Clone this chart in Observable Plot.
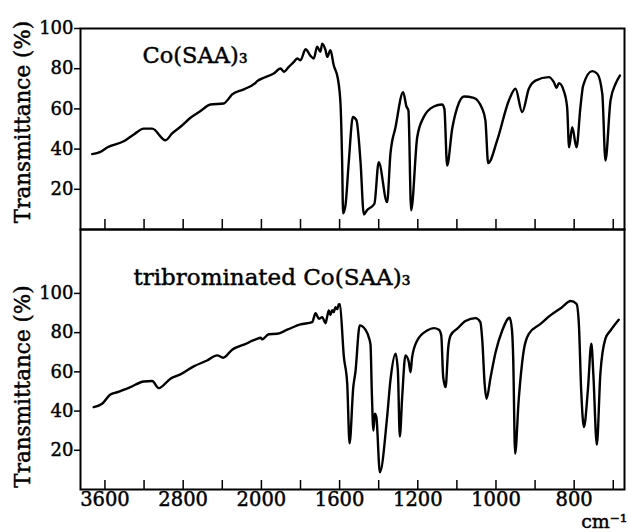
<!DOCTYPE html>
<html><head><meta charset="utf-8">
<script src="https://cdn.jsdelivr.net/npm/d3@7"></script>
<script src="https://cdn.jsdelivr.net/npm/@observablehq/plot@0.6"></script>
<style>
html,body{margin:0;padding:0;background:#fff;}
#wrap{position:relative;width:628px;height:532px;overflow:hidden;background:#fff;}
#wrap svg{position:absolute;left:0;overflow:visible;}
#wrap svg text{stroke:#000;stroke-width:0.45px;}
</style></head><body><div id="wrap"></div>
<script>
// Co(SAA)3 spectrum (wavenumber cm-1, transmittance %)
const topWavenumber = [3731,3646,3577,3408,3305,3203,3117,2981,2913,2828,2725,2623,2521,2385,2333,2299,2180,2060,2043,1988,1937,1902,1885,1860,1834,1817,1800,1774,1749,1732,1715,1698,1689,1672,1663,1647,1630,1609,1595,1587,1582,1570,1553,1532,1514,1493,1476,1459,1422,1400,1357,1340,1314,1275,1258,1248,1234,1203,1185,1159,1138,1132,1125,1112,1099,1082,1057,1035,1027,1020,997,967,950,933,916,899,865,852,845,839,827,818,813,805,794,784,777,754,741,728,720,707,694,683];
const topTransmittance = [37.5,38.6,40.8,43.9,47.3,50.2,50.2,44.4,47.8,51.1,55.6,58.9,62.2,62.7,65.2,67.2,69.7,73.0,73.8,75.5,77.6,80.1,78.5,80.9,83.4,85.1,84.2,89.7,86.4,85.1,90.9,88.4,92.5,89.2,85.9,89.2,81.7,75.1,61.8,33.7,8,12,33.7,56,54.4,33.7,7.5,9.7,12.8,33.5,13.6,37.6,50.9,68.3,61.2,59.2,9.5,45.9,55.9,61.2,62.2,60,31.8,50.1,60.8,66.2,65.5,60,54.2,33,44.3,64.2,70,58.4,70,74.1,75.8,73.3,70.5,72.8,69.2,60.8,40.9,50.9,40.9,60.8,71.6,78.8,77.5,67.5,34.3,64.2,72.5,76.6];

// tribrominated Co(SAA)3 spectrum
const bottomWavenumber = [3715,3629,3544,3475,3339,3203,3117,3050,2930,2828,2692,2555,2452,2391,2299,2145,2112,2043,2010,1996,1962,1919,1868,1800,1740,1723,1706,1689,1672,1664,1655,1647,1638,1630,1621,1612,1604,1599,1578,1561,1549,1530,1519,1497,1468,1451,1442,1435,1427,1420,1412,1394,1357,1340,1314,1302,1292,1280,1263,1246,1237,1229,1203,1176,1159,1146,1140,1135,1129,1122,1116,1099,1078,1052,1040,1035,1029,1024,1014,1001,984,965,959,956,951,942,929,916,886,861,831,809,794,788,782,775,765,756,751,742,733,720,707,686];
const bottomTransmittance = [42,43.7,48.5,49.6,52.2,55.1,55.3,51.7,56.5,58.7,62.8,65.8,68.4,67.2,71.3,74.6,75.5,76.8,77.4,76.6,79.2,79.4,81.5,84.2,85.4,89.9,87.1,87.9,84.8,88,91.3,89,91.5,90.5,93,92,94.5,94.4,67.5,53.9,23.5,52.2,60,83.7,81.5,77.7,74,49,30.1,38.6,36.9,8.8,36.9,55.6,69.2,60.7,27,47,68.4,65,59.8,67.5,76,81.1,82.3,81.5,78.6,57.3,52.2,72.6,78.6,82,85.9,87.4,85.4,76,53.9,46.3,57,70,81.1,87.6,81.1,67.5,18.3,45.4,70.9,79.4,84.5,88.8,93,96.1,94.7,84.5,50.5,31.8,50.5,74.3,59,22.8,59,76.9,81.1,86.6];

const xTickValues = [3600,3200,2800,2400,2000,1800,1600,1400,1200,1100,1000,900,800,700];
const xTickLabels = [3600,2800,2000,1600,1200,1000,800];
const yTickValues = [20,40,60,80,100];
const topTitle = "Co(SAA)₃";
const bottomTitle = "tribrominated Co(SAA)₃";
const yTitle = "Transmittance (%)";
const xUnit = "cm⁻¹";

const topData = topWavenumber.map((w, i) => ({w, t: topTransmittance[i]}));
const bottomData = bottomWavenumber.map((w, i) => ({w, t: bottomTransmittance[i]}));

const serif = "DejaVu Serif";
const xScale = () => ({type: "linear", domain: [3850, 2000, 1200, 672], range: [80, 260.9, 417.3, 623.7]});

const topPlot = Plot.plot({
  width: 628, height: 230,
  marginTop: 28, marginBottom: 1, marginLeft: 80, marginRight: 4,
  style: {fontFamily: serif, fontSize: "18px", background: "transparent", color: "#000"},
  x: {...xScale(), axis: null},
  y: {domain: [0, 100], axis: null},
  marks: [
    Plot.axisY(yTickValues, {tickSize: 6, tickPadding: 1, label: null, fontSize: 18, stroke: "#000", strokeWidth: 1.5}),
    Plot.ruleX(xTickValues, {x: d => d, insetTop: 191, stroke: "#000", strokeWidth: 1.5}),
    Plot.line(topData, {x: "w", y: "t", stroke: "#000", strokeWidth: 2.4, strokeLinejoin: "round", curve: "monotone-x"}),
    Plot.frame({stroke: "#000", strokeWidth: 2}),
    Plot.text([topTitle], {frameAnchor: "top-left", dx: 62, dy: 34, textAnchor: "start", lineAnchor: "bottom", fontSize: 22.5, fill: "#000"}),
    Plot.text([yTitle], {frameAnchor: "left", rotate: -90, dx: -57, dy: -7, textAnchor: "middle", lineAnchor: "middle", fontSize: 21.5, fill: "#000"})
  ]
});

const bottomPlot = Plot.plot({
  width: 628, height: 304,
  marginTop: 1, marginBottom: 43, marginLeft: 80, marginRight: 4,
  style: {fontFamily: serif, fontSize: "18px", background: "transparent", color: "#000"},
  x: {...xScale()},
  y: {domain: [0, 132.6], axis: null},
  marks: [
    Plot.axisY(yTickValues, {tickSize: 6, tickPadding: 1, label: null, fontSize: 18, stroke: "#000", strokeWidth: 1.5}),
    Plot.ruleX(xTickValues, {x: d => d, insetTop: 251, stroke: "#000", strokeWidth: 1.5}),
    Plot.axisX(xTickLabels, {tickSize: 0, tickPadding: 3, label: null, tickFormat: d => String(d), fontSize: 19.5, lineAnchor: "top"}),
    Plot.line(bottomData, {x: "w", y: "t", stroke: "#000", strokeWidth: 2.4, strokeLinejoin: "round", curve: "monotone-x"}),
    Plot.frame({stroke: "#000", strokeWidth: 2}),
    Plot.text([bottomTitle], {frameAnchor: "top-left", dx: 53, dy: 55, textAnchor: "start", lineAnchor: "bottom", fontSize: 23, fill: "#000"}),
    Plot.text([yTitle], {frameAnchor: "left", rotate: -90, dx: -57, dy: 27, textAnchor: "middle", lineAnchor: "middle", fontSize: 21.5, fill: "#000"}),
    Plot.text([xUnit], {frameAnchor: "bottom-right", dx: 3, dy: 38, textAnchor: "end", lineAnchor: "bottom", fontSize: 19, fill: "#000"})
  ]
});

topPlot.style.top = "0px";
bottomPlot.style.top = "228px";
const wrap = document.getElementById("wrap");
wrap.appendChild(topPlot);
wrap.appendChild(bottomPlot);
</script>
</body></html>
